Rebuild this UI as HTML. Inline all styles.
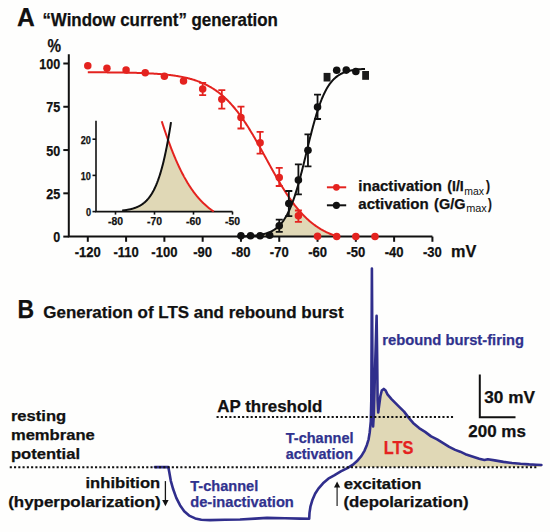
<!DOCTYPE html>
<html><head><meta charset="utf-8"><style>
html,body{margin:0;padding:0;background:#fefefd;}
svg{display:block;font-family:"Liberation Sans",sans-serif;}
</style></head><body>
<svg width="550" height="532" viewBox="0 0 550 532">
<rect width="550" height="532" fill="#fefefd"/>
<text x="17.10" y="25.50" font-size="26.30" fill="#111" font-weight="bold" stroke="#111" stroke-width="0.25" textLength="17.79" lengthAdjust="spacingAndGlyphs">A</text>
<text x="42.40" y="25.50" font-size="17.80" fill="#111" font-weight="bold" stroke="#111" stroke-width="0.25" textLength="235.57" lengthAdjust="spacingAndGlyphs">“Window current” generation</text>
<text x="47.40" y="51.60" font-size="18.40" fill="#111" font-weight="bold" stroke="#111" stroke-width="0.25" textLength="13.57" lengthAdjust="spacingAndGlyphs">%</text>
<path d="M240.96,236.32 L241.29,236.32 L241.62,236.31 L241.95,236.30 L242.28,236.29 L242.61,236.28 L242.93,236.27 L243.26,236.26 L243.59,236.24 L243.92,236.23 L244.25,236.22 L244.58,236.21 L244.91,236.20 L245.24,236.18 L245.57,236.17 L245.90,236.15 L246.23,236.14 L246.55,236.12 L246.88,236.11 L247.21,236.09 L247.54,236.08 L247.87,236.06 L248.20,236.04 L248.53,236.02 L248.86,236.00 L249.19,235.99 L249.52,235.97 L249.85,235.94 L250.18,235.92 L250.50,235.90 L250.83,235.88 L251.16,235.85 L251.49,235.83 L251.82,235.81 L252.15,235.78 L252.48,235.75 L252.81,235.72 L253.14,235.70 L253.47,235.67 L253.80,235.64 L254.12,235.61 L254.45,235.57 L254.78,235.54 L255.11,235.50 L255.44,235.47 L255.77,235.43 L256.10,235.39 L256.43,235.36 L256.76,235.31 L257.09,235.27 L257.42,235.23 L257.74,235.19 L258.07,235.14 L258.40,235.09 L258.73,235.04 L259.06,234.99 L259.39,234.94 L259.72,234.89 L260.05,234.83 L260.38,234.77 L260.71,234.71 L261.04,234.65 L261.37,234.59 L261.69,234.53 L262.02,234.46 L262.35,234.39 L262.68,234.32 L263.01,234.24 L263.34,234.17 L263.67,234.09 L264.00,234.01 L264.33,233.93 L264.66,233.84 L264.99,233.75 L265.31,233.66 L265.64,233.56 L265.97,233.47 L266.30,233.37 L266.63,233.26 L266.96,233.16 L267.29,233.04 L267.62,232.93 L267.95,232.81 L268.28,232.69 L268.61,232.57 L268.93,232.44 L269.26,232.31 L269.59,232.17 L269.92,232.03 L270.25,231.88 L270.58,231.73 L270.91,231.58 L271.24,231.42 L271.57,231.25 L271.90,231.08 L272.23,230.91 L272.56,230.73 L272.88,230.54 L273.21,230.35 L273.54,230.16 L273.87,229.95 L274.20,229.74 L274.53,229.53 L274.86,229.31 L275.19,229.08 L275.52,228.85 L275.85,228.60 L276.18,228.35 L276.50,228.10 L276.83,227.83 L277.16,227.56 L277.49,227.28 L277.82,226.99 L278.15,226.70 L278.48,226.39 L278.81,226.08 L279.14,225.76 L279.47,225.43 L279.80,225.09 L280.12,224.74 L280.45,224.37 L280.78,224.00 L281.11,223.62 L281.44,223.23 L281.77,222.83 L282.10,222.42 L282.43,221.99 L282.76,221.56 L283.09,221.11 L283.42,220.65 L283.74,220.18 L284.07,219.70 L284.40,219.20 L284.73,218.69 L285.06,218.17 L285.39,217.63 L285.72,217.08 L286.05,216.52 L286.38,215.94 L286.71,215.35 L287.04,214.75 L287.37,214.13 L287.69,213.49 L288.02,212.84 L288.35,212.18 L288.68,211.50 L289.01,210.80 L289.34,210.09 L289.67,209.36 L290.00,208.62 L290.33,207.86 L290.66,207.08 L290.99,206.29 L291.31,205.48 L291.64,204.65 L291.97,203.81 L292.30,202.95 L292.63,202.42 L292.96,202.86 L293.29,203.30 L293.62,203.74 L293.95,204.17 L294.28,204.60 L294.61,205.03 L294.93,205.45 L295.26,205.87 L295.59,206.29 L295.92,206.70 L296.25,207.11 L296.58,207.52 L296.91,207.92 L297.24,208.32 L297.57,208.72 L297.90,209.12 L298.23,209.51 L298.56,209.89 L298.88,210.28 L299.21,210.66 L299.54,211.04 L299.87,211.41 L300.20,211.79 L300.53,212.15 L300.86,212.52 L301.19,212.88 L301.52,213.24 L301.85,213.60 L302.18,213.95 L302.50,214.30 L302.83,214.64 L303.16,214.99 L303.49,215.33 L303.82,215.66 L304.15,216.00 L304.48,216.33 L304.81,216.66 L305.14,216.98 L305.47,217.30 L305.80,217.62 L306.12,217.94 L306.45,218.25 L306.78,218.56 L307.11,218.86 L307.44,219.17 L307.77,219.47 L308.10,219.77 L308.43,220.06 L308.76,220.35 L309.09,220.64 L309.42,220.93 L309.74,221.21 L310.07,221.49 L310.40,221.77 L310.73,222.04 L311.06,222.31 L311.39,222.58 L311.72,222.85 L312.05,223.11 L312.38,223.37 L312.71,223.63 L313.04,223.88 L313.37,224.13 L313.69,224.38 L314.02,224.63 L314.35,224.87 L314.68,225.11 L315.01,225.35 L315.34,225.59 L315.67,225.82 L316.00,226.06 L316.33,226.28 L316.66,226.51 L316.99,226.73 L317.31,226.96 L317.64,227.17 L317.97,227.39 L318.30,227.60 L318.63,227.82 L318.96,228.03 L319.29,228.23 L319.62,228.44 L319.95,228.64 L320.28,228.84 L320.61,229.04 L320.93,229.23 L321.26,229.43 L321.59,229.62 L321.92,229.81 L322.25,229.99 L322.58,230.18 L322.91,230.36 L323.24,230.54 L323.57,230.72 L323.90,230.89 L324.23,231.07 L324.56,231.24 L324.88,231.41 L325.21,231.58 L325.54,231.74 L325.87,231.91 L326.20,232.07 L326.53,232.23 L326.86,232.39 L327.19,232.54 L327.52,232.70 L327.85,232.85 L328.18,233.00 L328.50,233.15 L328.83,233.30 L329.16,233.44 L329.49,233.59 L329.82,233.73 L330.15,233.87 L330.48,234.01 L330.81,234.14 L331.14,234.28 L331.47,234.41 L331.80,234.54 L332.12,234.67 L332.45,234.80 L332.78,234.93 L333.11,235.05 L333.44,235.18 L333.77,235.30 L334.10,235.42 L334.43,235.54 L334.76,235.66 L335.09,235.77 L335.42,235.89 L335.75,236.00 L336.07,236.12 L336.40,236.23 L336.73,236.34 L337.06,236.44 L337.39,236.55 L337.72,236.60 L338.05,236.60 L338.38,236.60 L338.71,236.60 L339.04,236.60 L339.37,236.60 Z" fill="#e0d8b6"/>
<path d="M122.13,210.51 L122.44,210.48 L122.76,210.45 L123.07,210.41 L123.38,210.37 L123.70,210.34 L124.01,210.30 L124.32,210.26 L124.63,210.22 L124.95,210.18 L125.26,210.13 L125.57,210.09 L125.89,210.04 L126.20,209.99 L126.51,209.95 L126.83,209.90 L127.14,209.84 L127.45,209.79 L127.76,209.74 L128.08,209.68 L128.39,209.62 L128.70,209.56 L129.02,209.50 L129.33,209.43 L129.64,209.37 L129.96,209.30 L130.27,209.23 L130.58,209.16 L130.90,209.09 L131.21,209.01 L131.52,208.93 L131.83,208.85 L132.15,208.77 L132.46,208.68 L132.77,208.59 L133.09,208.50 L133.40,208.41 L133.71,208.31 L134.03,208.21 L134.34,208.11 L134.65,208.00 L134.96,207.89 L135.28,207.78 L135.59,207.67 L135.90,207.55 L136.22,207.42 L136.53,207.30 L136.84,207.17 L137.16,207.04 L137.47,206.90 L137.78,206.76 L138.10,206.61 L138.41,206.46 L138.72,206.31 L139.03,206.15 L139.35,205.98 L139.66,205.81 L139.97,205.64 L140.29,205.46 L140.60,205.28 L140.91,205.09 L141.23,204.89 L141.54,204.69 L141.85,204.48 L142.16,204.27 L142.48,204.05 L142.79,203.83 L143.10,203.59 L143.42,203.36 L143.73,203.11 L144.04,202.86 L144.36,202.60 L144.67,202.33 L144.98,202.05 L145.30,201.77 L145.61,201.48 L145.92,201.18 L146.23,200.87 L146.55,200.55 L146.86,200.22 L147.17,199.89 L147.49,199.54 L147.80,199.19 L148.11,198.82 L148.43,198.45 L148.74,198.06 L149.05,197.66 L149.36,197.25 L149.68,196.83 L149.99,196.40 L150.30,195.96 L150.62,195.50 L150.93,195.03 L151.24,194.55 L151.56,194.06 L151.87,193.55 L152.18,193.03 L152.50,192.49 L152.81,191.94 L153.12,191.37 L153.43,190.79 L153.75,190.19 L154.06,189.58 L154.37,188.95 L154.69,188.30 L155.00,187.64 L155.31,186.96 L155.63,186.26 L155.94,185.54 L156.25,184.81 L156.56,184.05 L156.88,183.28 L157.19,182.49 L157.50,181.67 L157.82,180.84 L158.13,179.98 L158.44,179.11 L158.76,178.21 L159.07,177.29 L159.38,176.34 L159.70,175.38 L160.01,174.39 L160.32,173.37 L160.63,172.34 L160.95,171.28 L161.26,170.19 L161.57,169.08 L161.89,167.94 L162.20,166.77 L162.51,165.58 L162.83,164.37 L163.14,163.12 L163.45,161.85 L163.76,160.55 L164.08,159.22 L164.39,157.87 L164.70,156.48 L165.02,155.07 L165.33,153.63 L165.64,152.15 L165.96,150.65 L166.27,149.12 L166.58,147.56 L166.90,145.97 L167.21,144.34 L167.52,142.69 L167.83,141.01 L168.15,140.17 L168.46,141.03 L168.77,141.89 L169.09,142.74 L169.40,143.59 L169.71,144.43 L170.03,145.27 L170.34,146.09 L170.65,146.92 L170.96,147.74 L171.28,148.55 L171.59,149.35 L171.90,150.15 L172.22,150.95 L172.53,151.74 L172.84,152.52 L173.16,153.29 L173.47,154.06 L173.78,154.83 L174.10,155.59 L174.41,156.34 L174.72,157.09 L175.03,157.83 L175.35,158.56 L175.66,159.29 L175.97,160.02 L176.29,160.73 L176.60,161.44 L176.91,162.15 L177.23,162.85 L177.54,163.54 L177.85,164.23 L178.16,164.92 L178.48,165.59 L178.79,166.26 L179.10,166.93 L179.42,167.59 L179.73,168.24 L180.04,168.89 L180.36,169.53 L180.67,170.17 L180.98,170.80 L181.30,171.43 L181.61,172.05 L181.92,172.66 L182.23,173.27 L182.55,173.88 L182.86,174.48 L183.17,175.07 L183.49,175.66 L183.80,176.24 L184.11,176.81 L184.43,177.39 L184.74,177.95 L185.05,178.51 L185.36,179.07 L185.68,179.62 L185.99,180.16 L186.30,180.70 L186.62,181.24 L186.93,181.77 L187.24,182.29 L187.56,182.81 L187.87,183.32 L188.18,183.83 L188.50,184.34 L188.81,184.84 L189.12,185.33 L189.43,185.82 L189.75,186.30 L190.06,186.78 L190.37,187.26 L190.69,187.73 L191.00,188.19 L191.31,188.65 L191.63,189.11 L191.94,189.56 L192.25,190.01 L192.56,190.45 L192.88,190.89 L193.19,191.32 L193.50,191.75 L193.82,192.17 L194.13,192.59 L194.44,193.01 L194.76,193.42 L195.07,193.83 L195.38,194.23 L195.70,194.63 L196.01,195.02 L196.32,195.41 L196.63,195.80 L196.95,196.18 L197.26,196.56 L197.57,196.93 L197.89,197.30 L198.20,197.67 L198.51,198.03 L198.83,198.38 L199.14,198.74 L199.45,199.09 L199.76,199.43 L200.08,199.78 L200.39,200.12 L200.70,200.45 L201.02,200.78 L201.33,201.11 L201.64,201.43 L201.96,201.75 L202.27,202.07 L202.58,202.38 L202.90,202.69 L203.21,203.00 L203.52,203.30 L203.83,203.60 L204.15,203.90 L204.46,204.19 L204.77,204.48 L205.09,204.77 L205.40,205.05 L205.71,205.33 L206.03,205.61 L206.34,205.88 L206.65,206.15 L206.96,206.42 L207.28,206.68 L207.59,206.95 L207.90,207.20 L208.22,207.46 L208.53,207.71 L208.84,207.96 L209.16,208.21 L209.47,208.45 L209.78,208.69 L210.10,208.93 L210.41,209.17 L210.72,209.40 L211.03,209.63 L211.35,209.86 L211.66,210.08 L211.97,210.30 L212.29,210.52 L212.60,210.74 L212.91,210.95 L213.23,211.17 L213.54,211.38 L213.85,211.58 L214.16,211.60 L214.48,211.60 L214.79,211.60 L215.10,211.60 L215.42,211.60 L215.73,211.60 Z" fill="#e0d8b6"/>
<path d="M68.8,54.3 V236.6 H432.41" fill="none" stroke="#111" stroke-width="2"/>
<line x1="63.3" y1="236.60" x2="68.8" y2="236.60" stroke="#111" stroke-width="2"/>
<line x1="63.3" y1="193.32" x2="68.8" y2="193.32" stroke="#111" stroke-width="2"/>
<line x1="63.3" y1="150.05" x2="68.8" y2="150.05" stroke="#111" stroke-width="2"/>
<line x1="63.3" y1="106.77" x2="68.8" y2="106.77" stroke="#111" stroke-width="2"/>
<line x1="63.3" y1="63.50" x2="68.8" y2="63.50" stroke="#111" stroke-width="2"/>
<line x1="87.80" y1="236.6" x2="87.80" y2="241.79999999999998" stroke="#111" stroke-width="2"/>
<line x1="126.09" y1="236.6" x2="126.09" y2="241.79999999999998" stroke="#111" stroke-width="2"/>
<line x1="164.38" y1="236.6" x2="164.38" y2="241.79999999999998" stroke="#111" stroke-width="2"/>
<line x1="202.67" y1="236.6" x2="202.67" y2="241.79999999999998" stroke="#111" stroke-width="2"/>
<line x1="240.96" y1="236.6" x2="240.96" y2="241.79999999999998" stroke="#111" stroke-width="2"/>
<line x1="279.25" y1="236.6" x2="279.25" y2="241.79999999999998" stroke="#111" stroke-width="2"/>
<line x1="317.54" y1="236.6" x2="317.54" y2="241.79999999999998" stroke="#111" stroke-width="2"/>
<line x1="355.83" y1="236.6" x2="355.83" y2="241.79999999999998" stroke="#111" stroke-width="2"/>
<line x1="394.12" y1="236.6" x2="394.12" y2="241.79999999999998" stroke="#111" stroke-width="2"/>
<line x1="432.41" y1="236.6" x2="432.41" y2="241.79999999999998" stroke="#111" stroke-width="2"/>
<text x="39.29" y="69.20" font-size="14.10" fill="#111" font-weight="bold" stroke="#111" stroke-width="0.25" textLength="20.94" lengthAdjust="spacingAndGlyphs">100</text>
<text x="46.23" y="112.47" font-size="14.10" fill="#111" font-weight="bold" stroke="#111" stroke-width="0.25" textLength="13.96" lengthAdjust="spacingAndGlyphs">75</text>
<text x="46.23" y="155.75" font-size="14.10" fill="#111" font-weight="bold" stroke="#111" stroke-width="0.25" textLength="13.96" lengthAdjust="spacingAndGlyphs">50</text>
<text x="46.23" y="199.02" font-size="14.10" fill="#111" font-weight="bold" stroke="#111" stroke-width="0.25" textLength="13.96" lengthAdjust="spacingAndGlyphs">25</text>
<text x="53.26" y="242.30" font-size="14.10" fill="#111" font-weight="bold" stroke="#111" stroke-width="0.25" textLength="6.98" lengthAdjust="spacingAndGlyphs">0</text>
<text x="74.75" y="257.10" font-size="14.00" fill="#111" font-weight="bold" stroke="#111" stroke-width="0.25" textLength="26.11" lengthAdjust="spacingAndGlyphs">-120</text>
<text x="113.41" y="257.10" font-size="14.00" fill="#111" font-weight="bold" stroke="#111" stroke-width="0.25" textLength="25.40" lengthAdjust="spacingAndGlyphs">-110</text>
<text x="151.33" y="257.10" font-size="14.00" fill="#111" font-weight="bold" stroke="#111" stroke-width="0.25" textLength="26.11" lengthAdjust="spacingAndGlyphs">-100</text>
<text x="193.26" y="257.10" font-size="14.00" fill="#111" font-weight="bold" stroke="#111" stroke-width="0.25" textLength="18.86" lengthAdjust="spacingAndGlyphs">-90</text>
<text x="231.55" y="257.10" font-size="14.00" fill="#111" font-weight="bold" stroke="#111" stroke-width="0.25" textLength="18.86" lengthAdjust="spacingAndGlyphs">-80</text>
<text x="269.84" y="257.10" font-size="14.00" fill="#111" font-weight="bold" stroke="#111" stroke-width="0.25" textLength="18.86" lengthAdjust="spacingAndGlyphs">-70</text>
<text x="308.13" y="257.10" font-size="14.00" fill="#111" font-weight="bold" stroke="#111" stroke-width="0.25" textLength="18.86" lengthAdjust="spacingAndGlyphs">-60</text>
<text x="346.42" y="257.10" font-size="14.00" fill="#111" font-weight="bold" stroke="#111" stroke-width="0.25" textLength="18.86" lengthAdjust="spacingAndGlyphs">-50</text>
<text x="384.71" y="257.10" font-size="14.00" fill="#111" font-weight="bold" stroke="#111" stroke-width="0.25" textLength="18.86" lengthAdjust="spacingAndGlyphs">-40</text>
<text x="423.00" y="257.10" font-size="14.00" fill="#111" font-weight="bold" stroke="#111" stroke-width="0.25" textLength="18.86" lengthAdjust="spacingAndGlyphs">-30</text>
<text x="451.10" y="256.80" font-size="16.70" fill="#111" font-weight="bold" stroke="#111" stroke-width="0.25" textLength="25.29" lengthAdjust="spacingAndGlyphs">mV</text>
<path d="M96.00,120.7 V211.6 H232.50" fill="none" stroke="#111" stroke-width="1.6"/>
<line x1="92.50" y1="211.60" x2="96.00" y2="211.60" stroke="#111" stroke-width="1.6"/>
<line x1="92.50" y1="175.40" x2="96.00" y2="175.40" stroke="#111" stroke-width="1.6"/>
<line x1="92.50" y1="139.20" x2="96.00" y2="139.20" stroke="#111" stroke-width="1.6"/>
<line x1="115.50" y1="211.6" x2="115.50" y2="214.6" stroke="#111" stroke-width="1.6"/>
<line x1="154.50" y1="211.6" x2="154.50" y2="214.6" stroke="#111" stroke-width="1.6"/>
<line x1="193.50" y1="211.6" x2="193.50" y2="214.6" stroke="#111" stroke-width="1.6"/>
<line x1="232.50" y1="211.6" x2="232.50" y2="214.6" stroke="#111" stroke-width="1.6"/>
<text x="80.79" y="143.50" font-size="10.40" fill="#111" font-weight="bold" stroke="#111" stroke-width="0.25" textLength="10.18" lengthAdjust="spacingAndGlyphs">20</text>
<text x="80.79" y="179.70" font-size="10.40" fill="#111" font-weight="bold" stroke="#111" stroke-width="0.25" textLength="10.18" lengthAdjust="spacingAndGlyphs">10</text>
<text x="85.90" y="215.90" font-size="10.40" fill="#111" font-weight="bold" stroke="#111" stroke-width="0.25" textLength="5.09" lengthAdjust="spacingAndGlyphs">0</text>
<text x="108.00" y="225.30" font-size="10.40" fill="#111" font-weight="bold" stroke="#111" stroke-width="0.25" textLength="15.03" lengthAdjust="spacingAndGlyphs">-80</text>
<text x="147.00" y="225.30" font-size="10.40" fill="#111" font-weight="bold" stroke="#111" stroke-width="0.25" textLength="15.03" lengthAdjust="spacingAndGlyphs">-70</text>
<text x="186.00" y="225.30" font-size="10.40" fill="#111" font-weight="bold" stroke="#111" stroke-width="0.25" textLength="15.03" lengthAdjust="spacingAndGlyphs">-60</text>
<text x="225.00" y="225.30" font-size="10.40" fill="#111" font-weight="bold" stroke="#111" stroke-width="0.25" textLength="15.03" lengthAdjust="spacingAndGlyphs">-50</text>
<path d="M161.74,121.24 L162.02,122.11 L162.30,122.97 L162.58,123.84 L162.85,124.69 L163.13,125.55 L163.41,126.39 L163.69,127.24 L163.97,128.08 L164.25,128.91 L164.52,129.75 L164.80,130.57 L165.08,131.40 L165.36,132.21 L165.64,133.03 L165.92,133.84 L166.19,134.64 L166.47,135.44 L166.75,136.24 L167.03,137.03 L167.31,137.82 L167.59,138.60 L167.86,139.38 L168.14,140.15 L168.42,140.92 L168.70,141.69 L168.98,142.44 L169.26,143.20 L169.53,143.95 L169.81,144.70 L170.09,145.44 L170.37,146.17 L170.65,146.91 L170.93,147.63 L171.20,148.35 L171.48,149.07 L171.76,149.79 L172.04,150.49 L172.32,151.20 L172.59,151.90 L172.87,152.59 L173.15,153.28 L173.43,153.97 L173.71,154.65 L173.99,155.32 L174.26,156.00 L174.54,156.66 L174.82,157.32 L175.10,157.98 L175.38,158.63 L175.66,159.28 L175.93,159.93 L176.21,160.56 L176.49,161.20 L176.77,161.83 L177.05,162.45 L177.33,163.07 L177.60,163.69 L177.88,164.30 L178.16,164.91 L178.44,165.51 L178.72,166.11 L179.00,166.70 L179.27,167.29 L179.55,167.87 L179.83,168.45 L180.11,169.03 L180.39,169.60 L180.67,170.16 L180.94,170.73 L181.22,171.28 L181.50,171.84 L181.78,172.38 L182.06,172.93 L182.34,173.47 L182.61,174.00 L182.89,174.53 L183.17,175.06 L183.45,175.58 L183.73,176.10 L184.00,176.62 L184.28,177.13 L184.56,177.63 L184.84,178.13 L185.12,178.63 L185.40,179.12 L185.67,179.61 L185.95,180.10 L186.23,180.58 L186.51,181.05 L186.79,181.53 L187.07,181.99 L187.34,182.46 L187.62,182.92 L187.90,183.37 L188.18,183.83 L188.46,184.28 L188.74,184.72 L189.01,185.16 L189.29,185.60 L189.57,186.03 L189.85,186.46 L190.13,186.88 L190.41,187.31 L190.68,187.72 L190.96,188.14 L191.24,188.55 L191.52,188.95 L191.80,189.36 L192.08,189.76 L192.35,190.15 L192.63,190.54 L192.91,190.93 L193.19,191.32 L193.47,191.70 L193.74,192.08 L194.02,192.45 L194.30,192.82 L194.58,193.19 L194.86,193.55 L195.14,193.91 L195.41,194.27 L195.69,194.63 L195.97,194.98 L196.25,195.32 L196.53,195.67 L196.81,196.01 L197.08,196.35 L197.36,196.68 L197.64,197.01 L197.92,197.34 L198.20,197.66 L198.48,197.99 L198.75,198.30 L199.03,198.62 L199.31,198.93 L199.59,199.24 L199.87,199.55 L200.15,199.85 L200.42,200.15 L200.70,200.45 L200.98,200.74 L201.26,201.04 L201.54,201.32 L201.82,201.61 L202.09,201.89 L202.37,202.17 L202.65,202.45 L202.93,202.73 L203.21,203.00 L203.49,203.27 L203.76,203.54 L204.04,203.80 L204.32,204.06 L204.60,204.32 L204.88,204.58 L205.15,204.83 L205.43,205.08 L205.71,205.33 L205.99,205.58 L206.27,205.82 L206.55,206.06 L206.82,206.30 L207.10,206.54 L207.38,206.77 L207.66,207.00 L207.94,207.23 L208.22,207.46 L208.49,207.68 L208.77,207.91 L209.05,208.13 L209.33,208.34 L209.61,208.56 L209.89,208.77 L210.16,208.98 L210.44,209.19 L210.72,209.40 L211.00,209.60 L211.28,209.81 L211.56,210.01 L211.83,210.20 L212.11,210.40 L212.39,210.60 L212.67,210.79 L212.95,210.98 L213.23,211.17 L213.50,211.35 L213.78,211.54" fill="none" stroke="#e4231f" stroke-width="2"/>
<path d="M122.13,210.51 L122.38,210.49 L122.62,210.46 L122.87,210.43 L123.12,210.40 L123.36,210.38 L123.61,210.35 L123.86,210.32 L124.11,210.29 L124.35,210.25 L124.60,210.22 L124.85,210.19 L125.09,210.16 L125.34,210.12 L125.59,210.09 L125.83,210.05 L126.08,210.01 L126.33,209.97 L126.57,209.94 L126.82,209.90 L127.07,209.86 L127.32,209.81 L127.56,209.77 L127.81,209.73 L128.06,209.68 L128.30,209.64 L128.55,209.59 L128.80,209.54 L129.04,209.49 L129.29,209.44 L129.54,209.39 L129.78,209.34 L130.03,209.28 L130.28,209.23 L130.53,209.17 L130.77,209.11 L131.02,209.06 L131.27,208.99 L131.51,208.93 L131.76,208.87 L132.01,208.80 L132.25,208.74 L132.50,208.67 L132.75,208.60 L133.00,208.53 L133.24,208.45 L133.49,208.38 L133.74,208.30 L133.98,208.22 L134.23,208.14 L134.48,208.06 L134.72,207.98 L134.97,207.89 L135.22,207.80 L135.46,207.71 L135.71,207.62 L135.96,207.53 L136.21,207.43 L136.45,207.33 L136.70,207.23 L136.95,207.13 L137.19,207.02 L137.44,206.91 L137.69,206.80 L137.93,206.69 L138.18,206.57 L138.43,206.45 L138.67,206.33 L138.92,206.20 L139.17,206.08 L139.42,205.95 L139.66,205.81 L139.91,205.68 L140.16,205.54 L140.40,205.39 L140.65,205.25 L140.90,205.10 L141.14,204.94 L141.39,204.79 L141.64,204.63 L141.88,204.46 L142.13,204.29 L142.38,204.12 L142.63,203.95 L142.87,203.77 L143.12,203.58 L143.37,203.39 L143.61,203.20 L143.86,203.01 L144.11,202.80 L144.35,202.60 L144.60,202.39 L144.85,202.17 L145.09,201.95 L145.34,201.73 L145.59,201.50 L145.84,201.26 L146.08,201.02 L146.33,200.77 L146.58,200.52 L146.82,200.26 L147.07,200.00 L147.32,199.73 L147.56,199.46 L147.81,199.17 L148.06,198.89 L148.31,198.59 L148.55,198.29 L148.80,197.98 L149.05,197.67 L149.29,197.35 L149.54,197.02 L149.79,196.68 L150.03,196.34 L150.28,195.99 L150.53,195.63 L150.77,195.27 L151.02,194.89 L151.27,194.51 L151.52,194.12 L151.76,193.72 L152.01,193.32 L152.26,192.90 L152.50,192.48 L152.75,192.04 L153.00,191.60 L153.24,191.15 L153.49,190.68 L153.74,190.21 L153.98,189.73 L154.23,189.24 L154.48,188.74 L154.73,188.22 L154.97,187.70 L155.22,187.17 L155.47,186.62 L155.71,186.06 L155.96,185.50 L156.21,184.92 L156.45,184.32 L156.70,183.72 L156.95,183.11 L157.19,182.48 L157.44,181.84 L157.69,181.18 L157.94,180.52 L158.18,179.84 L158.43,179.15 L158.68,178.44 L158.92,177.72 L159.17,176.99 L159.42,176.24 L159.66,175.48 L159.91,174.70 L160.16,173.91 L160.40,173.10 L160.65,172.28 L160.90,171.44 L161.15,170.59 L161.39,169.72 L161.64,168.84 L161.89,167.94 L162.13,167.02 L162.38,166.09 L162.63,165.14 L162.87,164.17 L163.12,163.19 L163.37,162.19 L163.62,161.18 L163.86,160.14 L164.11,159.09 L164.36,158.02 L164.60,156.93 L164.85,155.83 L165.10,154.70 L165.34,153.56 L165.59,152.40 L165.84,151.22 L166.08,150.03 L166.33,148.81 L166.58,147.58 L166.83,146.33 L167.07,145.05 L167.32,143.76 L167.57,142.45 L167.81,141.13 L168.06,139.78 L168.31,138.41 L168.55,137.03 L168.80,135.62 L169.05,134.20 L169.29,132.75 L169.54,131.29 L169.79,129.81 L170.04,128.31 L170.28,126.79 L170.53,125.26 L170.78,123.70 L171.02,122.12" fill="none" stroke="#111" stroke-width="2"/>
<path d="M87.80,72.26 L88.43,72.26 L89.06,72.27 L89.69,72.27 L90.32,72.27 L90.95,72.27 L91.58,72.28 L92.21,72.28 L92.84,72.28 L93.47,72.29 L94.10,72.29 L94.74,72.29 L95.37,72.30 L96.00,72.30 L96.63,72.30 L97.26,72.31 L97.89,72.31 L98.52,72.31 L99.15,72.32 L99.78,72.32 L100.41,72.32 L101.04,72.33 L101.67,72.33 L102.30,72.34 L102.93,72.34 L103.56,72.35 L104.19,72.35 L104.82,72.36 L105.45,72.36 L106.08,72.37 L106.71,72.37 L107.35,72.38 L107.98,72.38 L108.61,72.39 L109.24,72.39 L109.87,72.40 L110.50,72.41 L111.13,72.41 L111.76,72.42 L112.39,72.43 L113.02,72.43 L113.65,72.44 L114.28,72.45 L114.91,72.45 L115.54,72.46 L116.17,72.47 L116.80,72.48 L117.43,72.49 L118.06,72.49 L118.69,72.50 L119.32,72.51 L119.95,72.52 L120.59,72.53 L121.22,72.54 L121.85,72.55 L122.48,72.56 L123.11,72.57 L123.74,72.58 L124.37,72.59 L125.00,72.60 L125.63,72.62 L126.26,72.63 L126.89,72.64 L127.52,72.65 L128.15,72.67 L128.78,72.68 L129.41,72.69 L130.04,72.71 L130.67,72.72 L131.30,72.74 L131.93,72.75 L132.56,72.77 L133.20,72.78 L133.83,72.80 L134.46,72.82 L135.09,72.83 L135.72,72.85 L136.35,72.87 L136.98,72.89 L137.61,72.91 L138.24,72.93 L138.87,72.95 L139.50,72.97 L140.13,72.99 L140.76,73.01 L141.39,73.04 L142.02,73.06 L142.65,73.08 L143.28,73.11 L143.91,73.13 L144.54,73.16 L145.17,73.19 L145.81,73.21 L146.44,73.24 L147.07,73.27 L147.70,73.30 L148.33,73.33 L148.96,73.36 L149.59,73.39 L150.22,73.43 L150.85,73.46 L151.48,73.50 L152.11,73.53 L152.74,73.57 L153.37,73.61 L154.00,73.64 L154.63,73.68 L155.26,73.72 L155.89,73.77 L156.52,73.81 L157.15,73.85 L157.78,73.90 L158.41,73.94 L159.05,73.99 L159.68,74.04 L160.31,74.09 L160.94,74.14 L161.57,74.20 L162.20,74.25 L162.83,74.30 L163.46,74.36 L164.09,74.42 L164.72,74.48 L165.35,74.54 L165.98,74.61 L166.61,74.67 L167.24,74.74 L167.87,74.81 L168.50,74.88 L169.13,74.95 L169.76,75.02 L170.39,75.10 L171.02,75.18 L171.66,75.26 L172.29,75.34 L172.92,75.42 L173.55,75.51 L174.18,75.60 L174.81,75.69 L175.44,75.78 L176.07,75.88 L176.70,75.98 L177.33,76.08 L177.96,76.18 L178.59,76.29 L179.22,76.40 L179.85,76.51 L180.48,76.62 L181.11,76.74 L181.74,76.86 L182.37,76.98 L183.00,77.11 L183.63,77.24 L184.26,77.37 L184.90,77.51 L185.53,77.65 L186.16,77.80 L186.79,77.94 L187.42,78.09 L188.05,78.25 L188.68,78.41 L189.31,78.57 L189.94,78.74 L190.57,78.91 L191.20,79.08 L191.83,79.26 L192.46,79.45 L193.09,79.64 L193.72,79.83 L194.35,80.03 L194.98,80.23 L195.61,80.44 L196.24,80.65 L196.87,80.87 L197.51,81.09 L198.14,81.32 L198.77,81.56 L199.40,81.80 L200.03,82.04 L200.66,82.30 L201.29,82.55 L201.92,82.82 L202.55,83.09 L203.18,83.37 L203.81,83.65 L204.44,83.94 L205.07,84.24 L205.70,84.54 L206.33,84.85 L206.96,85.17 L207.59,85.49 L208.22,85.83 L208.85,86.17 L209.48,86.52 L210.11,86.87 L210.75,87.23 L211.38,87.61 L212.01,87.99 L212.64,88.38 L213.27,88.77 L213.90,89.18 L214.53,89.59 L215.16,90.02 L215.79,90.45 L216.42,90.89 L217.05,91.34 L217.68,91.80 L218.31,92.27 L218.94,92.75 L219.57,93.24 L220.20,93.74 L220.83,94.25 L221.46,94.77 L222.09,95.30 L222.72,95.85 L223.36,96.40 L223.99,96.96 L224.62,97.53 L225.25,98.12 L225.88,98.71 L226.51,99.32 L227.14,99.94 L227.77,100.57 L228.40,101.21 L229.03,101.86 L229.66,102.52 L230.29,103.20 L230.92,103.88 L231.55,104.58 L232.18,105.29 L232.81,106.01 L233.44,106.75 L234.07,107.49 L234.70,108.25 L235.33,109.02 L235.97,109.80 L236.60,110.59 L237.23,111.40 L237.86,112.22 L238.49,113.04 L239.12,113.88 L239.75,114.74 L240.38,115.60 L241.01,116.47 L241.64,117.36 L242.27,118.26 L242.90,119.17 L243.53,120.09 L244.16,121.02 L244.79,121.96 L245.42,122.91 L246.05,123.88 L246.68,124.85 L247.31,125.83 L247.94,126.83 L248.57,127.83 L249.21,128.85 L249.84,129.87 L250.47,130.90 L251.10,131.94 L251.73,132.99 L252.36,134.05 L252.99,135.11 L253.62,136.18 L254.25,137.26 L254.88,138.35 L255.51,139.45 L256.14,140.55 L256.77,141.65 L257.40,142.77 L258.03,143.88 L258.66,145.01 L259.29,146.13 L259.92,147.27 L260.55,148.40 L261.18,149.54 L261.82,150.68 L262.45,151.83 L263.08,152.98 L263.71,154.13 L264.34,155.28 L264.97,156.43 L265.60,157.58 L266.23,158.73 L266.86,159.89 L267.49,161.04 L268.12,162.19 L268.75,163.34 L269.38,164.49 L270.01,165.63 L270.64,166.78 L271.27,167.92 L271.90,169.05 L272.53,170.19 L273.16,171.32 L273.79,172.44 L274.42,173.56 L275.06,174.67 L275.69,175.78 L276.32,176.88 L276.95,177.98 L277.58,179.07 L278.21,180.15 L278.84,181.23 L279.47,182.30 L280.10,183.36 L280.73,184.41 L281.36,185.45 L281.99,186.48 L282.62,187.51 L283.25,188.53 L283.88,189.53 L284.51,190.53 L285.14,191.52 L285.77,192.49 L286.40,193.46 L287.03,194.42 L287.67,195.36 L288.30,196.30 L288.93,197.22 L289.56,198.13 L290.19,199.03 L290.82,199.92 L291.45,200.80 L292.08,201.67 L292.71,202.52 L293.34,203.37 L293.97,204.20 L294.60,205.02 L295.23,205.83 L295.86,206.62 L296.49,207.41 L297.12,208.18 L297.75,208.94 L298.38,209.69 L299.01,210.43 L299.64,211.16 L300.27,211.87 L300.91,212.57 L301.54,213.26 L302.17,213.94 L302.80,214.61 L303.43,215.26 L304.06,215.91 L304.69,216.54 L305.32,217.16 L305.95,217.77 L306.58,218.37 L307.21,218.96 L307.84,219.53 L308.47,220.10 L309.10,220.65 L309.73,221.20 L310.36,221.73 L310.99,222.25 L311.62,222.77 L312.25,223.27 L312.88,223.76 L313.52,224.25 L314.15,224.72 L314.78,225.18 L315.41,225.64 L316.04,226.08 L316.67,226.52 L317.30,226.94 L317.93,227.36 L318.56,227.77 L319.19,228.17 L319.82,228.56 L320.45,228.94 L321.08,229.32 L321.71,229.68 L322.34,230.04 L322.97,230.39 L323.60,230.74 L324.23,231.07 L324.86,231.40 L325.49,231.72 L326.13,232.03 L326.76,232.34 L327.39,232.64 L328.02,232.93 L328.65,233.21 L329.28,233.49 L329.91,233.76 L330.54,234.03 L331.17,234.29 L331.80,234.54 L332.43,234.79 L333.06,235.03 L333.69,235.27 L334.32,235.50 L334.95,235.73 L335.58,235.95 L336.21,236.16 L336.84,236.37 L337.47,236.58 L338.10,236.60 L338.73,236.60 L339.37,236.60" fill="none" stroke="#e4231f" stroke-width="2"/>
<path d="M240.96,236.32 L241.27,236.32 L241.58,236.31 L241.89,236.30 L242.20,236.29 L242.51,236.28 L242.83,236.27 L243.14,236.26 L243.45,236.25 L243.76,236.24 L244.07,236.23 L244.38,236.22 L244.69,236.20 L245.00,236.19 L245.31,236.18 L245.62,236.17 L245.93,236.15 L246.25,236.14 L246.56,236.12 L246.87,236.11 L247.18,236.09 L247.49,236.08 L247.80,236.06 L248.11,236.05 L248.42,236.03 L248.73,236.01 L249.04,235.99 L249.36,235.98 L249.67,235.96 L249.98,235.94 L250.29,235.92 L250.60,235.89 L250.91,235.87 L251.22,235.85 L251.53,235.83 L251.84,235.80 L252.15,235.78 L252.46,235.75 L252.78,235.73 L253.09,235.70 L253.40,235.67 L253.71,235.64 L254.02,235.62 L254.33,235.59 L254.64,235.55 L254.95,235.52 L255.26,235.49 L255.57,235.45 L255.88,235.42 L256.20,235.38 L256.51,235.35 L256.82,235.31 L257.13,235.27 L257.44,235.23 L257.75,235.18 L258.06,235.14 L258.37,235.10 L258.68,235.05 L258.99,235.00 L259.30,234.95 L259.62,234.90 L259.93,234.85 L260.24,234.80 L260.55,234.74 L260.86,234.69 L261.17,234.63 L261.48,234.57 L261.79,234.51 L262.10,234.44 L262.41,234.38 L262.72,234.31 L263.04,234.24 L263.35,234.17 L263.66,234.09 L263.97,234.02 L264.28,233.94 L264.59,233.86 L264.90,233.77 L265.21,233.69 L265.52,233.60 L265.83,233.51 L266.15,233.41 L266.46,233.32 L266.77,233.22 L267.08,233.12 L267.39,233.01 L267.70,232.90 L268.01,232.79 L268.32,232.68 L268.63,232.56 L268.94,232.44 L269.25,232.31 L269.57,232.18 L269.88,232.05 L270.19,231.91 L270.50,231.77 L270.81,231.62 L271.12,231.48 L271.43,231.32 L271.74,231.16 L272.05,231.00 L272.36,230.83 L272.67,230.66 L272.99,230.49 L273.30,230.30 L273.61,230.12 L273.92,229.92 L274.23,229.73 L274.54,229.52 L274.85,229.31 L275.16,229.10 L275.47,228.88 L275.78,228.65 L276.09,228.42 L276.41,228.18 L276.72,227.93 L277.03,227.67 L277.34,227.41 L277.65,227.15 L277.96,226.87 L278.27,226.59 L278.58,226.30 L278.89,226.00 L279.20,225.69 L279.51,225.38 L279.83,225.05 L280.14,224.72 L280.45,224.38 L280.76,224.03 L281.07,223.67 L281.38,223.31 L281.69,222.93 L282.00,222.54 L282.31,222.14 L282.62,221.74 L282.94,221.32 L283.25,220.89 L283.56,220.45 L283.87,220.00 L284.18,219.54 L284.49,219.07 L284.80,218.58 L285.11,218.09 L285.42,217.58 L285.73,217.06 L286.04,216.53 L286.36,215.98 L286.67,215.43 L286.98,214.86 L287.29,214.27 L287.60,213.68 L287.91,213.07 L288.22,212.44 L288.53,211.81 L288.84,211.16 L289.15,210.49 L289.46,209.81 L289.78,209.12 L290.09,208.41 L290.40,207.69 L290.71,206.96 L291.02,206.20 L291.33,205.44 L291.64,204.66 L291.95,203.86 L292.26,203.05 L292.57,202.23 L292.88,201.39 L293.20,200.53 L293.51,199.66 L293.82,198.78 L294.13,197.88 L294.44,196.96 L294.75,196.03 L295.06,195.09 L295.37,194.13 L295.68,193.15 L295.99,192.16 L296.30,191.16 L296.62,190.14 L296.93,189.11 L297.24,188.07 L297.55,187.01 L297.86,185.94 L298.17,184.86 L298.48,183.76 L298.79,182.65 L299.10,181.53 L299.41,180.39 L299.73,179.25 L300.04,178.09 L300.35,176.92 L300.66,175.75 L300.97,174.56 L301.28,173.36 L301.59,172.15 L301.90,170.94 L302.21,169.72 L302.52,168.49 L302.83,167.25 L303.15,166.00 L303.46,164.75 L303.77,163.50 L304.08,162.24 L304.39,160.97 L304.70,159.70 L305.01,158.43 L305.32,157.15 L305.63,155.87 L305.94,154.60 L306.25,153.32 L306.57,152.03 L306.88,150.75 L307.19,149.47 L307.50,148.20 L307.81,146.92 L308.12,145.65 L308.43,144.38 L308.74,143.11 L309.05,141.85 L309.36,140.59 L309.67,139.34 L309.99,138.09 L310.30,136.85 L310.61,135.62 L310.92,134.39 L311.23,133.17 L311.54,131.96 L311.85,130.76 L312.16,129.57 L312.47,128.39 L312.78,127.22 L313.09,126.06 L313.41,124.91 L313.72,123.78 L314.03,122.65 L314.34,121.54 L314.65,120.44 L314.96,119.35 L315.27,118.27 L315.58,117.21 L315.89,116.16 L316.20,115.12 L316.52,114.10 L316.83,113.10 L317.14,112.10 L317.45,111.12 L317.76,110.16 L318.07,109.21 L318.38,108.28 L318.69,107.36 L319.00,106.45 L319.31,105.56 L319.62,104.69 L319.94,103.83 L320.25,102.98 L320.56,102.15 L320.87,101.34 L321.18,100.54 L321.49,99.75 L321.80,98.98 L322.11,98.23 L322.42,97.49 L322.73,96.76 L323.04,96.05 L323.36,95.35 L323.67,94.67 L323.98,94.00 L324.29,93.34 L324.60,92.70 L324.91,92.07 L325.22,91.46 L325.53,90.86 L325.84,90.27 L326.15,89.70 L326.46,89.14 L326.78,88.59 L327.09,88.05 L327.40,87.53 L327.71,87.02 L328.02,86.52 L328.33,86.03 L328.64,85.55 L328.95,85.09 L329.26,84.64 L329.57,84.19 L329.88,83.76 L330.20,83.34 L330.51,82.93 L330.82,82.53 L331.13,82.14 L331.44,81.76 L331.75,81.39 L332.06,81.03 L332.37,80.67 L332.68,80.33 L332.99,80.00 L333.31,79.67 L333.62,79.35 L333.93,79.04 L334.24,78.74 L334.55,78.45 L334.86,78.16 L335.17,77.89 L335.48,77.62 L335.79,77.35 L336.10,77.10 L336.41,76.85 L336.73,76.61 L337.04,76.37 L337.35,76.14 L337.66,75.92 L337.97,75.70 L338.28,75.49 L338.59,75.28 L338.90,75.08 L339.21,74.89 L339.52,74.70 L339.83,74.52 L340.15,74.34 L340.46,74.17 L340.77,74.00 L341.08,73.83 L341.39,73.67 L341.70,73.52 L342.01,73.37 L342.32,73.22 L342.63,73.08 L342.94,72.94 L343.25,72.81 L343.57,72.68 L343.88,72.55 L344.19,72.43 L344.50,72.31 L344.81,72.19 L345.12,72.08 L345.43,71.97 L345.74,71.86 L346.05,71.76 L346.36,71.66 L346.67,71.56 L346.99,71.47 L347.30,71.38 L347.61,71.29 L347.92,71.20 L348.23,71.12 L348.54,71.03 L348.85,70.95 L349.16,70.88 L349.47,70.80 L349.78,70.73 L350.10,70.66 L350.41,70.59 L350.72,70.52 L351.03,70.46 L351.34,70.40 L351.65,70.34 L351.96,70.28 L352.27,70.22 L352.58,70.17 L352.89,70.11 L353.20,70.06 L353.52,70.01 L353.83,69.96 L354.14,69.91 L354.45,69.86 L354.76,69.82 L355.07,69.78 L355.38,69.73 L355.69,69.69 L356.00,69.65 L356.31,69.61 L356.62,69.58 L356.94,69.54 L357.25,69.50 L357.56,69.47 L357.87,69.44 L358.18,69.40 L358.49,69.37 L358.80,69.34 L359.11,69.31 L359.42,69.28 L359.73,69.25 L360.04,69.23 L360.36,69.20 L360.67,69.18 L360.98,69.15 L361.29,69.13 L361.60,69.10 L361.91,69.08 L362.22,69.06 L362.53,69.04 L362.84,69.02 L363.15,69.00 L363.46,68.98 L363.78,68.96 L364.09,68.94 L364.40,68.92 L364.71,68.91 L365.02,68.89" fill="none" stroke="#111" stroke-width="2"/>
<path d="M202.67,82.8 V95.2 M199.17,82.8 H206.17 M199.17,95.2 H206.17" stroke="#e4231f" stroke-width="1.8" fill="none"/>
<path d="M221.81,90.1 V108.6 M218.31,90.1 H225.31 M218.31,108.6 H225.31" stroke="#e4231f" stroke-width="1.8" fill="none"/>
<path d="M240.96,106.6 V128.5 M237.46,106.6 H244.46 M237.46,128.5 H244.46" stroke="#e4231f" stroke-width="1.8" fill="none"/>
<path d="M260.11,131.8 V153.6 M256.61,131.8 H263.61 M256.61,153.6 H263.61" stroke="#e4231f" stroke-width="1.8" fill="none"/>
<path d="M279.25,167.8 V186.0 M275.75,167.8 H282.75 M275.75,186.0 H282.75" stroke="#e4231f" stroke-width="1.8" fill="none"/>
<path d="M298.39,210.5 V221.8 M294.89,210.5 H301.89 M294.89,221.8 H301.89" stroke="#e4231f" stroke-width="1.8" fill="none"/>
<circle cx="87.80" cy="65.8" r="3.75" fill="#e4231f"/>
<circle cx="106.94" cy="68.2" r="3.75" fill="#e4231f"/>
<circle cx="126.09" cy="70.1" r="3.75" fill="#e4231f"/>
<circle cx="145.24" cy="72.8" r="3.75" fill="#e4231f"/>
<circle cx="164.38" cy="76.2" r="3.75" fill="#e4231f"/>
<circle cx="183.53" cy="81.0" r="3.75" fill="#e4231f"/>
<circle cx="202.67" cy="89.1" r="3.75" fill="#e4231f"/>
<circle cx="221.81" cy="99.3" r="3.75" fill="#e4231f"/>
<circle cx="240.96" cy="117.5" r="3.75" fill="#e4231f"/>
<circle cx="260.11" cy="142.8" r="3.75" fill="#e4231f"/>
<circle cx="279.25" cy="177.6" r="3.75" fill="#e4231f"/>
<circle cx="298.39" cy="215.8" r="3.75" fill="#e4231f"/>
<circle cx="317.54" cy="236.3" r="3.75" fill="#e4231f"/>
<circle cx="336.69" cy="236.4" r="3.75" fill="#e4231f"/>
<circle cx="355.83" cy="236.4" r="3.75" fill="#e4231f"/>
<circle cx="374.98" cy="236.4" r="3.75" fill="#e4231f"/>
<path d="M279.25,219.7 V231.9 M275.75,219.7 H282.75 M275.75,231.9 H282.75" stroke="#111" stroke-width="1.8" fill="none"/>
<path d="M288.82,191.0 V216.1 M285.32,191.0 H292.32 M285.32,216.1 H292.32" stroke="#111" stroke-width="1.8" fill="none"/>
<path d="M298.39,164.4 V194.4 M294.89,164.4 H301.89 M294.89,194.4 H301.89" stroke="#111" stroke-width="1.8" fill="none"/>
<path d="M307.97,134.3 V166.4 M304.47,134.3 H311.47 M304.47,166.4 H311.47" stroke="#111" stroke-width="1.8" fill="none"/>
<path d="M317.54,94.6 V119.0 M314.04,94.6 H321.04 M314.04,119.0 H321.04" stroke="#111" stroke-width="1.8" fill="none"/>
<circle cx="240.96" cy="235.8" r="3.8" fill="#111"/>
<circle cx="250.53" cy="235.8" r="3.8" fill="#111"/>
<circle cx="260.11" cy="235.8" r="3.8" fill="#111"/>
<circle cx="269.68" cy="235.3" r="3.8" fill="#111"/>
<circle cx="279.25" cy="225.7" r="3.8" fill="#111"/>
<circle cx="288.82" cy="203.5" r="3.8" fill="#111"/>
<circle cx="298.39" cy="180.0" r="3.8" fill="#111"/>
<circle cx="307.97" cy="150.3" r="3.8" fill="#111"/>
<circle cx="317.54" cy="107.1" r="3.8" fill="#111"/>
<circle cx="336.69" cy="70.3" r="3.8" fill="#111"/>
<circle cx="346.26" cy="70.1" r="3.8" fill="#111"/>
<circle cx="355.83" cy="71.5" r="3.8" fill="#111"/>
<rect x="323.6" y="72.9" width="6.9" height="8.6" fill="#1b1b1b"/>
<rect x="362.2" y="71.0" width="6.8" height="8.8" fill="#1b1b1b"/>
<line x1="326.9" y1="187.3" x2="346.2" y2="187.3" stroke="#e4231f" stroke-width="2"/><circle cx="336.4" cy="187.3" r="3.4" fill="#e4231f"/>
<line x1="326.9" y1="205.3" x2="346.2" y2="205.3" stroke="#111" stroke-width="2"/><circle cx="336.4" cy="205.3" r="3.6" fill="#111"/>
<text x="358.30" y="191.40" font-size="14.40" fill="#111" font-weight="bold" stroke="#111" stroke-width="0.25" textLength="83.52" lengthAdjust="spacingAndGlyphs">inactivation</text>
<text x="447.30" y="191.40" font-size="14.40" fill="#111" font-weight="bold" stroke="#111" stroke-width="0.25" textLength="16.50" lengthAdjust="spacingAndGlyphs">(I/I</text>
<text x="464.30" y="194.70" font-size="10.80" fill="#111" font-weight="normal" textLength="19.70" lengthAdjust="spacingAndGlyphs">max</text>
<text x="486.00" y="191.40" font-size="14.40" fill="#111" font-weight="bold" stroke="#111" stroke-width="0.25" textLength="4.00" lengthAdjust="spacingAndGlyphs">)</text>
<text x="358.30" y="209.00" font-size="14.40" fill="#111" font-weight="bold" stroke="#111" stroke-width="0.25" textLength="70.33" lengthAdjust="spacingAndGlyphs">activation</text>
<text x="434.10" y="209.00" font-size="14.40" fill="#111" font-weight="bold" stroke="#111" stroke-width="0.25" textLength="31.40" lengthAdjust="spacingAndGlyphs">(G/G</text>
<text x="466.20" y="211.90" font-size="10.80" fill="#111" font-weight="normal" textLength="20.60" lengthAdjust="spacingAndGlyphs">max</text>
<text x="488.00" y="209.00" font-size="14.40" fill="#111" font-weight="bold" stroke="#111" stroke-width="0.25" textLength="3.80" lengthAdjust="spacingAndGlyphs">)</text>
<text x="17.60" y="318.10" font-size="26.60" fill="#111" font-weight="bold" stroke="#111" stroke-width="0.25" textLength="16.61" lengthAdjust="spacingAndGlyphs">B</text>
<text x="43.30" y="317.90" font-size="16.60" fill="#111" font-weight="bold" stroke="#111" stroke-width="0.25" textLength="300.40" lengthAdjust="spacingAndGlyphs">Generation of LTS and rebound burst</text>
<path d="M351.00,467.10 L352.60,464.90 L356.80,461.30 L361.30,456.20 L364.60,450.60 L366.90,444.90 L368.60,439.30 L369.70,432.50 L370.80,421.30 L371.30,400.00 L371.60,340.00 L371.90,268.50 L372.30,340.00 L372.70,410.00 L373.10,426.50 L373.80,415.00 L375.30,360.00 L376.60,315.80 L377.20,360.00 L377.60,400.00 L378.20,412.50 L379.20,405.00 L380.40,396.00 L381.80,390.50 L383.80,388.90 L385.60,390.50 L387.50,394.30 L391.30,398.80 L395.00,402.60 L399.50,407.10 L404.10,411.60 L408.60,417.60 L413.10,422.90 L419.10,428.10 L425.10,431.90 L431.10,436.40 L437.10,439.40 L443.20,443.20 L449.20,446.90 L455.20,449.90 L460.20,451.70 L465.40,454.20 L472.30,456.40 L479.20,458.70 L484.40,459.90 L487.80,459.20 L494.70,460.40 L503.40,461.90 L512.00,463.00 L520.60,463.80 L529.30,464.40 L536.20,464.70 L541.40,465.00 L541.40,467.10 Z" fill="#e0d8b6"/>
<path d="M154.90,467.10 L168.30,467.10 L169.30,472.20 L170.80,480.80 L173.20,489.30 L176.30,497.90 L180.00,505.20 L184.20,511.30 L189.10,515.60 L195.20,518.40 L201.30,519.70 L210.00,520.10 L225.00,519.80 L240.00,519.50 L255.00,518.60 L267.00,517.90 L285.00,518.30 L300.00,518.60 L309.20,518.80 L309.50,512.90 L310.50,506.30 L312.50,499.70 L315.10,493.80 L318.40,488.60 L323.00,483.30 L328.30,478.70 L334.20,475.40 L340.80,471.40 L347.40,468.20 L352.60,464.90 L356.80,461.30 L361.30,456.20 L364.60,450.60 L366.90,444.90 L368.60,439.30 L369.70,432.50 L370.80,421.30 L371.30,400.00 L371.60,340.00 L371.90,268.50 L372.30,340.00 L372.70,410.00 L373.10,426.50 L373.80,415.00 L375.30,360.00 L376.60,315.80 L377.20,360.00 L377.60,400.00 L378.20,412.50 L379.20,405.00 L380.40,396.00 L381.80,390.50 L383.80,388.90 L385.60,390.50 L387.50,394.30 L391.30,398.80 L395.00,402.60 L399.50,407.10 L404.10,411.60 L408.60,417.60 L413.10,422.90 L419.10,428.10 L425.10,431.90 L431.10,436.40 L437.10,439.40 L443.20,443.20 L449.20,446.90 L455.20,449.90 L460.20,451.70 L465.40,454.20 L472.30,456.40 L479.20,458.70 L484.40,459.90 L487.80,459.20 L494.70,460.40 L503.40,461.90 L512.00,463.00 L520.60,463.80 L529.30,464.40 L536.20,464.70 L541.40,465.00" fill="none" stroke="#302e8c" stroke-width="2.6" stroke-linejoin="round" stroke-linecap="round"/>
<path d="M9.75,466.15h2.1v2.1h-2.1zM14.01,466.15h2.1v2.1h-2.1zM18.28,466.15h2.1v2.1h-2.1zM22.54,466.15h2.1v2.1h-2.1zM26.81,466.15h2.1v2.1h-2.1zM31.07,466.15h2.1v2.1h-2.1zM35.34,466.15h2.1v2.1h-2.1zM39.60,466.15h2.1v2.1h-2.1zM43.86,466.15h2.1v2.1h-2.1zM48.13,466.15h2.1v2.1h-2.1zM52.39,466.15h2.1v2.1h-2.1zM56.66,466.15h2.1v2.1h-2.1zM60.92,466.15h2.1v2.1h-2.1zM65.18,466.15h2.1v2.1h-2.1zM69.45,466.15h2.1v2.1h-2.1zM73.71,466.15h2.1v2.1h-2.1zM77.98,466.15h2.1v2.1h-2.1zM82.24,466.15h2.1v2.1h-2.1zM86.51,466.15h2.1v2.1h-2.1zM90.77,466.15h2.1v2.1h-2.1zM95.03,466.15h2.1v2.1h-2.1zM99.30,466.15h2.1v2.1h-2.1zM103.56,466.15h2.1v2.1h-2.1zM107.83,466.15h2.1v2.1h-2.1zM112.09,466.15h2.1v2.1h-2.1zM116.36,466.15h2.1v2.1h-2.1zM120.62,466.15h2.1v2.1h-2.1zM124.88,466.15h2.1v2.1h-2.1zM129.15,466.15h2.1v2.1h-2.1zM133.41,466.15h2.1v2.1h-2.1zM137.68,466.15h2.1v2.1h-2.1zM141.94,466.15h2.1v2.1h-2.1zM146.21,466.15h2.1v2.1h-2.1zM150.47,466.15h2.1v2.1h-2.1zM154.73,466.15h2.1v2.1h-2.1zM159.00,466.15h2.1v2.1h-2.1zM163.26,466.15h2.1v2.1h-2.1zM167.53,466.15h2.1v2.1h-2.1zM171.79,466.15h2.1v2.1h-2.1zM176.05,466.15h2.1v2.1h-2.1zM180.32,466.15h2.1v2.1h-2.1zM184.58,466.15h2.1v2.1h-2.1zM188.85,466.15h2.1v2.1h-2.1zM193.11,466.15h2.1v2.1h-2.1zM197.38,466.15h2.1v2.1h-2.1zM201.64,466.15h2.1v2.1h-2.1zM205.90,466.15h2.1v2.1h-2.1zM210.17,466.15h2.1v2.1h-2.1zM214.43,466.15h2.1v2.1h-2.1zM218.70,466.15h2.1v2.1h-2.1zM222.96,466.15h2.1v2.1h-2.1zM227.23,466.15h2.1v2.1h-2.1zM231.49,466.15h2.1v2.1h-2.1zM235.75,466.15h2.1v2.1h-2.1zM240.02,466.15h2.1v2.1h-2.1zM244.28,466.15h2.1v2.1h-2.1zM248.55,466.15h2.1v2.1h-2.1zM252.81,466.15h2.1v2.1h-2.1zM257.08,466.15h2.1v2.1h-2.1zM261.34,466.15h2.1v2.1h-2.1zM265.60,466.15h2.1v2.1h-2.1zM269.87,466.15h2.1v2.1h-2.1zM274.13,466.15h2.1v2.1h-2.1zM278.40,466.15h2.1v2.1h-2.1zM282.66,466.15h2.1v2.1h-2.1zM286.92,466.15h2.1v2.1h-2.1zM291.19,466.15h2.1v2.1h-2.1zM295.45,466.15h2.1v2.1h-2.1zM299.72,466.15h2.1v2.1h-2.1zM303.98,466.15h2.1v2.1h-2.1zM308.25,466.15h2.1v2.1h-2.1zM312.51,466.15h2.1v2.1h-2.1zM316.77,466.15h2.1v2.1h-2.1zM321.04,466.15h2.1v2.1h-2.1zM325.30,466.15h2.1v2.1h-2.1zM329.57,466.15h2.1v2.1h-2.1zM333.83,466.15h2.1v2.1h-2.1zM338.10,466.15h2.1v2.1h-2.1zM342.36,466.15h2.1v2.1h-2.1zM346.62,466.15h2.1v2.1h-2.1zM350.89,466.15h2.1v2.1h-2.1zM355.15,466.15h2.1v2.1h-2.1zM359.42,466.15h2.1v2.1h-2.1zM363.68,466.15h2.1v2.1h-2.1zM367.95,466.15h2.1v2.1h-2.1zM372.21,466.15h2.1v2.1h-2.1zM376.47,466.15h2.1v2.1h-2.1zM380.74,466.15h2.1v2.1h-2.1zM385.00,466.15h2.1v2.1h-2.1zM389.27,466.15h2.1v2.1h-2.1zM393.53,466.15h2.1v2.1h-2.1zM397.79,466.15h2.1v2.1h-2.1zM402.06,466.15h2.1v2.1h-2.1zM406.32,466.15h2.1v2.1h-2.1zM410.59,466.15h2.1v2.1h-2.1zM414.85,466.15h2.1v2.1h-2.1zM419.12,466.15h2.1v2.1h-2.1zM423.38,466.15h2.1v2.1h-2.1zM427.64,466.15h2.1v2.1h-2.1zM431.91,466.15h2.1v2.1h-2.1zM436.17,466.15h2.1v2.1h-2.1zM440.44,466.15h2.1v2.1h-2.1zM444.70,466.15h2.1v2.1h-2.1zM448.97,466.15h2.1v2.1h-2.1zM453.23,466.15h2.1v2.1h-2.1zM457.49,466.15h2.1v2.1h-2.1zM461.76,466.15h2.1v2.1h-2.1zM466.02,466.15h2.1v2.1h-2.1zM470.29,466.15h2.1v2.1h-2.1zM474.55,466.15h2.1v2.1h-2.1zM478.82,466.15h2.1v2.1h-2.1zM483.08,466.15h2.1v2.1h-2.1zM487.34,466.15h2.1v2.1h-2.1zM491.61,466.15h2.1v2.1h-2.1zM495.87,466.15h2.1v2.1h-2.1zM500.14,466.15h2.1v2.1h-2.1zM504.40,466.15h2.1v2.1h-2.1zM508.66,466.15h2.1v2.1h-2.1zM512.93,466.15h2.1v2.1h-2.1zM517.19,466.15h2.1v2.1h-2.1zM521.46,466.15h2.1v2.1h-2.1zM525.72,466.15h2.1v2.1h-2.1zM529.99,466.15h2.1v2.1h-2.1zM534.25,466.15h2.1v2.1h-2.1z" fill="#111"/>
<path d="M216.55,415.95h2.1v2.1h-2.1zM220.81,415.95h2.1v2.1h-2.1zM225.07,415.95h2.1v2.1h-2.1zM229.34,415.95h2.1v2.1h-2.1zM233.60,415.95h2.1v2.1h-2.1zM237.86,415.95h2.1v2.1h-2.1zM242.12,415.95h2.1v2.1h-2.1zM246.38,415.95h2.1v2.1h-2.1zM250.64,415.95h2.1v2.1h-2.1zM254.91,415.95h2.1v2.1h-2.1zM259.17,415.95h2.1v2.1h-2.1zM263.43,415.95h2.1v2.1h-2.1zM267.69,415.95h2.1v2.1h-2.1zM271.95,415.95h2.1v2.1h-2.1zM276.22,415.95h2.1v2.1h-2.1zM280.48,415.95h2.1v2.1h-2.1zM284.74,415.95h2.1v2.1h-2.1zM289.00,415.95h2.1v2.1h-2.1zM293.26,415.95h2.1v2.1h-2.1zM297.52,415.95h2.1v2.1h-2.1zM301.79,415.95h2.1v2.1h-2.1zM306.05,415.95h2.1v2.1h-2.1zM310.31,415.95h2.1v2.1h-2.1zM314.57,415.95h2.1v2.1h-2.1zM318.83,415.95h2.1v2.1h-2.1zM323.10,415.95h2.1v2.1h-2.1zM327.36,415.95h2.1v2.1h-2.1zM331.62,415.95h2.1v2.1h-2.1zM335.88,415.95h2.1v2.1h-2.1zM340.14,415.95h2.1v2.1h-2.1zM344.40,415.95h2.1v2.1h-2.1zM348.67,415.95h2.1v2.1h-2.1zM352.93,415.95h2.1v2.1h-2.1zM357.19,415.95h2.1v2.1h-2.1zM361.45,415.95h2.1v2.1h-2.1zM365.71,415.95h2.1v2.1h-2.1zM369.98,415.95h2.1v2.1h-2.1zM374.24,415.95h2.1v2.1h-2.1zM378.50,415.95h2.1v2.1h-2.1zM382.76,415.95h2.1v2.1h-2.1zM387.02,415.95h2.1v2.1h-2.1zM391.28,415.95h2.1v2.1h-2.1zM395.55,415.95h2.1v2.1h-2.1zM399.81,415.95h2.1v2.1h-2.1zM404.07,415.95h2.1v2.1h-2.1zM408.33,415.95h2.1v2.1h-2.1zM412.59,415.95h2.1v2.1h-2.1zM416.86,415.95h2.1v2.1h-2.1zM421.12,415.95h2.1v2.1h-2.1zM425.38,415.95h2.1v2.1h-2.1zM429.64,415.95h2.1v2.1h-2.1zM433.90,415.95h2.1v2.1h-2.1zM438.16,415.95h2.1v2.1h-2.1zM442.43,415.95h2.1v2.1h-2.1zM446.69,415.95h2.1v2.1h-2.1zM450.95,415.95h2.1v2.1h-2.1z" fill="#111"/>
<text x="10.90" y="420.90" font-size="14.90" fill="#111" font-weight="bold" stroke="#111" stroke-width="0.25" textLength="55.37" lengthAdjust="spacingAndGlyphs">resting</text>
<text x="10.90" y="440.20" font-size="14.90" fill="#111" font-weight="bold" stroke="#111" stroke-width="0.25" textLength="83.85" lengthAdjust="spacingAndGlyphs">membrane</text>
<text x="10.90" y="458.90" font-size="14.90" fill="#111" font-weight="bold" stroke="#111" stroke-width="0.25" textLength="69.18" lengthAdjust="spacingAndGlyphs">potential</text>
<text x="85.50" y="487.90" font-size="14.90" fill="#111" font-weight="bold" stroke="#111" stroke-width="0.25" textLength="74.73" lengthAdjust="spacingAndGlyphs">inhibition</text>
<text x="8.20" y="506.90" font-size="14.90" fill="#111" font-weight="bold" stroke="#111" stroke-width="0.25" textLength="152.51" lengthAdjust="spacingAndGlyphs">(hyperpolarization)</text>
<text x="343.70" y="488.50" font-size="14.90" fill="#111" font-weight="bold" stroke="#111" stroke-width="0.25" textLength="77.84" lengthAdjust="spacingAndGlyphs">excitation</text>
<text x="343.50" y="507.10" font-size="14.90" fill="#111" font-weight="bold" stroke="#111" stroke-width="0.25" textLength="125.02" lengthAdjust="spacingAndGlyphs">(depolarization)</text>
<text x="190.20" y="490.60" font-size="15.00" fill="#30328e" font-weight="bold" stroke="#30328e" stroke-width="0.25" textLength="68.01" lengthAdjust="spacingAndGlyphs">T-channel</text>
<text x="190.20" y="507.40" font-size="15.00" fill="#30328e" font-weight="bold" stroke="#30328e" stroke-width="0.25" textLength="103.65" lengthAdjust="spacingAndGlyphs">de-inactivation</text>
<text x="285.80" y="442.60" font-size="15.00" fill="#30328e" font-weight="bold" stroke="#30328e" stroke-width="0.25" textLength="67.71" lengthAdjust="spacingAndGlyphs">T-channel</text>
<text x="285.80" y="458.90" font-size="15.00" fill="#30328e" font-weight="bold" stroke="#30328e" stroke-width="0.25" textLength="67.22" lengthAdjust="spacingAndGlyphs">activation</text>
<text x="382.30" y="344.70" font-size="15.20" fill="#30328e" font-weight="bold" stroke="#30328e" stroke-width="0.25" textLength="141.77" lengthAdjust="spacingAndGlyphs">rebound burst-firing</text>
<text x="217.30" y="412.00" font-size="16.50" fill="#111" font-weight="bold" stroke="#111" stroke-width="0.25" textLength="105.07" lengthAdjust="spacingAndGlyphs">AP threshold</text>
<text x="383.80" y="453.70" font-size="18.00" fill="#e4231f" font-weight="bold" stroke="#e4231f" stroke-width="0.25" textLength="29.76" lengthAdjust="spacingAndGlyphs">LTS</text>
<text x="484.30" y="402.50" font-size="15.80" fill="#111" font-weight="bold" stroke="#111" stroke-width="0.25" textLength="50.65" lengthAdjust="spacingAndGlyphs">30 mV</text>
<text x="468.30" y="437.20" font-size="15.60" fill="#111" font-weight="bold" stroke="#111" stroke-width="0.25" textLength="57.61" lengthAdjust="spacingAndGlyphs">200 ms</text>
<path d="M479.8,374.4 V417.2 H515.5" fill="none" stroke="#111" stroke-width="2"/>
<line x1="165.4" y1="481.1" x2="165.4" y2="501" stroke="#151515" stroke-width="1.3"/><path d="M162.2,500.0 L168.6,500.0 L165.4,506.3 Z" fill="#111"/>
<line x1="337.1" y1="486.5" x2="337.1" y2="506.1" stroke="#2a2a2a" stroke-width="1.25"/><path d="M334.0,487.5 L340.2,487.5 L337.1,481.5 Z" fill="#111"/>
</svg>
</body></html>
